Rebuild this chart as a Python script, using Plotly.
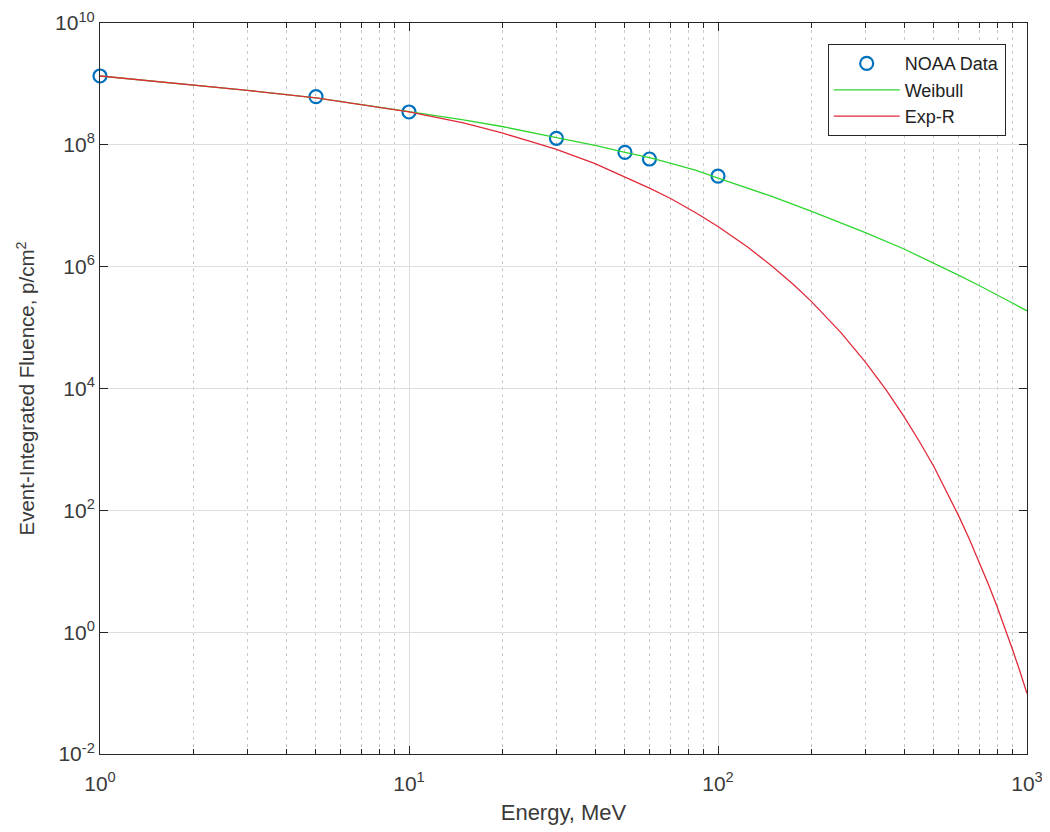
import plotly.graph_objects as go

# NOAA measured points
noaa_energy = [1, 5, 10, 30, 50, 60, 100]
noaa_fluence = [1.35e9, 6.2e8, 3.46e8, 1.28e8, 7.5e7, 5.85e7, 3.07e7]

# Weibull fit curve
weibull_energy = [1, 2, 3, 5, 7, 10, 15, 20, 30, 40, 50, 60, 70, 85, 100, 125, 150, 200, 250,
                  300, 400, 500, 600, 700, 800, 900, 1000]
weibull_fluence = [1.349e9, 9.66e8, 7.85e8, 5.89e8, 4.62e8, 3.51e8, 2.57e8, 2.00e8, 1.318e8,
                   9.77e7, 7.50e7, 6.17e7, 5.01e7, 3.80e7, 2.85e7, 1.95e7, 1.413e7, 8.13e6,
                   5.25e6, 3.63e6, 1.95e6, 1.148e6, 7.24e5, 4.90e5, 3.47e5, 2.51e5, 1.884e5]

# Exp-R fit curve
expr_energy = [1, 2, 3, 5, 7, 10, 15, 20, 25, 30, 40, 50, 60, 70, 85, 100, 125, 150, 175, 200,
               250, 300, 350, 400, 450, 500, 550, 600, 650, 700, 750, 800, 850, 900, 950, 1000]
expr_fluence = [1.349e9, 9.66e8, 7.85e8, 5.89e8, 4.62e8, 3.47e8, 2.29e8, 1.567e8, 1.122e8,
                8.41e7, 4.90e7, 2.99e7, 1.95e7, 1.33e7, 7.60e6, 4.56e6, 2.08e6, 1.01e6,
                5.15e5, 2.72e5, 8.26e4, 2.71e4, 9.46e3, 3.45e3, 1.31e3, 520, 203, 82.6,
                34.2, 14.4, 6.12, 2.64, 1.148, 0.50, 0.222, 0.0982]

x_tick_vals = [1, 10, 100, 1000]
x_tick_text = ["10<sup>0</sup>", "10<sup>1</sup>", "10<sup>2</sup>", "10<sup>3</sup>"]
y_tick_vals = [1e-2, 1e0, 1e2, 1e4, 1e6, 1e8, 1e10]
y_tick_text = ["10<sup>-2</sup>", "10<sup>0</sup>", "10<sup>2</sup>", "10<sup>4</sup>",
               "10<sup>6</sup>", "10<sup>8</sup>", "10<sup>10</sup>"]

FONT = "Liberation Sans, Arial, Helvetica, sans-serif"
AX = "#262626"
TXT = "#3a3a3a"

fig = go.Figure()
fig.add_trace(go.Scatter(x=noaa_energy, y=noaa_fluence, mode="markers", name="NOAA Data",
                         cliponaxis=False,
                         marker=dict(symbol="circle-open", size=13, color="#0072BD",
                                     line=dict(width=2.2, color="#0072BD"))))
fig.add_trace(go.Scatter(x=weibull_energy, y=weibull_fluence, mode="lines", name="Weibull",
                         line=dict(color="#2fd52f", width=1.3)))
fig.add_trace(go.Scatter(x=expr_energy, y=expr_fluence, mode="lines", name="Exp-R",
                         line=dict(color="#e02a3a", width=1.3)))

# page body has an 8px margin, so the figure is sized/offset to compensate
fig.update_layout(
    width=1042, height=824,
    margin=dict(l=92, r=23, t=15, b=78, autoexpand=False),
    paper_bgcolor="white", plot_bgcolor="white",
    font=dict(family=FONT, color=TXT, size=20),
    showlegend=True,
    legend=dict(x=0.977, y=0.971, xanchor="right", yanchor="top",
                bgcolor="white", bordercolor=AX, borderwidth=1,
                font=dict(size=18, color="#222222"), itemwidth=66,
                tracegroupgap=0),
)

fig.update_xaxes(
    type="log", range=[0, 3], automargin=False,
    tickmode="array", tickvals=x_tick_vals, ticktext=x_tick_text,
    showgrid=True, gridcolor="#dedede", gridwidth=1,
    showline=True, linecolor=AX, linewidth=1, mirror="ticks",
    ticks="inside", ticklen=8, tickcolor=AX, ticklabelstandoff=11,
    zeroline=False,
    minor=dict(dtick="D1", showgrid=True, gridcolor="#c8c8c8", griddash="3px,4px",
               ticks="inside", ticklen=5, tickcolor=AX),
    title=dict(text="Energy, MeV", font=dict(size=22, color=TXT), standoff=10),
    tickfont=dict(size=21, color=TXT),
)
fig.update_yaxes(
    type="log", range=[-2, 10], automargin=False,
    tickmode="array", tickvals=y_tick_vals, ticktext=y_tick_text,
    showgrid=True, gridcolor="#dedede", gridwidth=1,
    showline=True, linecolor=AX, linewidth=1, mirror="ticks",
    ticks="inside", ticklen=8, tickcolor=AX,
    zeroline=False,
    title=dict(text="Event-Integrated Fluence, p/cm<sup>2</sup>", font=dict(size=20.5, color=TXT), standoff=14),
    tickfont=dict(size=21, color=TXT),
)

fig.write_html("out.html")
